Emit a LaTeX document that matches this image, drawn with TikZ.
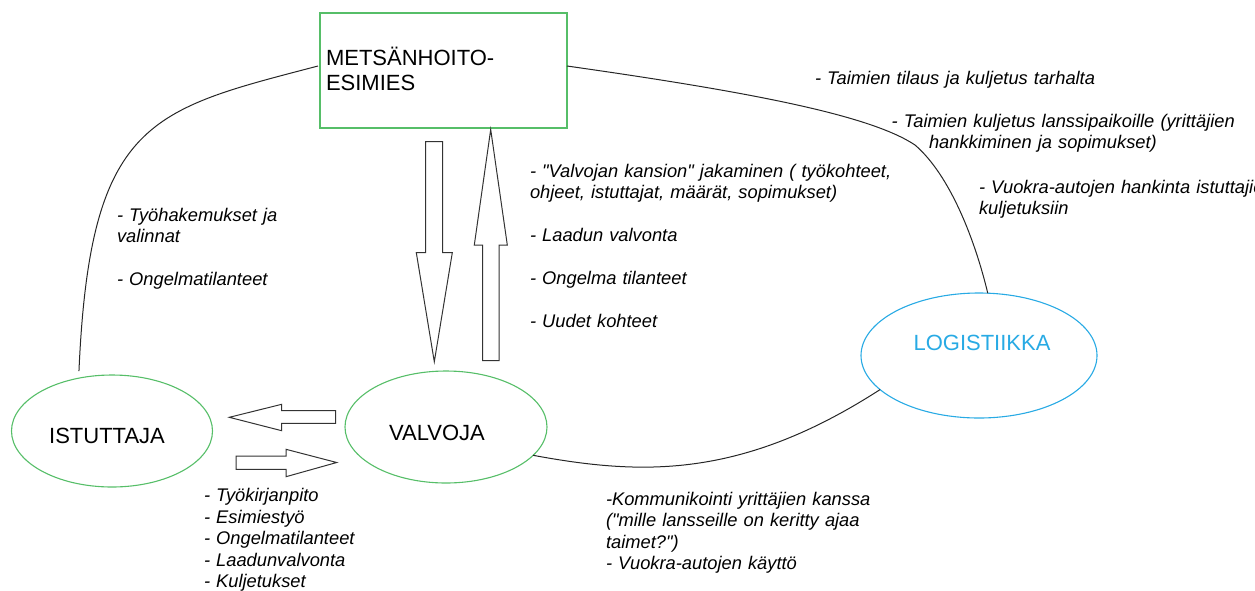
\documentclass[tikz,border=0pt]{standalone}
\usepackage{fontspec}
\setmainfont{Liberation Sans}[Ligatures=TeXOff]
\usetikzlibrary{shapes.geometric}
\definecolor{rolegreen}{RGB}{86,190,104}
\definecolor{logblue}{RGB}{40,170,228}
\begin{document}
\begin{tikzpicture}[x=1pt,y=-1pt,
  every node/.style={inner sep=0pt, outer sep=0pt},
  role/.style={ellipse, draw=rolegreen, line width=1.1pt},
  title/.style={font=\fontsize{22}{25.7}\selectfont},
  note/.style={anchor=base west, text width=430pt, align=left,
    font=\fontsize{18.3}{21.5}\selectfont\itshape},
  link/.style={draw=black!85, line width=1pt},
  blockarrow/.style={draw=black!80, line width=1pt, fill=white, line join=miter}
]
\useasboundingbox (0,0) rectangle (1255,590);
\clip (0,0) rectangle (1255,590);

% main boxes
\node[draw=rolegreen, line width=1.1pt, minimum width=247pt, minimum height=115pt] (box) at (443.5,70.5) {};
\node[title, anchor=base west, text width=240pt, align=left] (boxtext) at (326,65) {METSÄNHOITO-\\ESIMIES};

\node[role, minimum width=201pt, minimum height=112pt] (ist) at (112,431) {};
\node[title, anchor=base] (isttext) at (107,443) {ISTUTTAJA};

\node[role, minimum width=202pt, minimum height=112pt] (val) at (446,427) {};
\node[title, anchor=base] (valtext) at (437,440) {VALVOJA};

\node[ellipse, draw=logblue, line width=1.1pt, minimum width=236pt, minimum height=125pt] (log) at (979,355.5) {};
\node[title, anchor=base, text=logblue] (logtext) at (982,350) {LOGISTIIKKA};

% connecting curves
\draw[link] ([yshift=7pt]ist.122) .. controls (90,120) and (150,110) .. ([xshift=-2pt,yshift=4.5pt]box.west);
\draw[link] ([yshift=4.5pt]box.east) .. controls (750,92) and (870,115) .. (915,145)
  .. controls (950,175) and (975,240) .. (log.82);
\draw[link] (val.342) .. controls (640,475) and (740,480) .. (log.199);

% block arrows between the supervisor and the inspector
\draw[blockarrow] (425.7,141.7) -- (442.7,141.7) -- (442.7,252.7) -- (452.3,252.7)
  -- (434.3,361.7) -- (416.3,252.7) -- (425.7,252.7) -- cycle;
\draw[blockarrow] (482.7,360.7) -- (499,360.7) -- (499,245) -- (507.3,245)
  -- (490.7,129.5) -- (474.3,245) -- (482.7,245) -- cycle;

% block arrows between the planter and the inspector
\draw[blockarrow] (335.7,410.7) -- (281.7,410.7) -- (281.7,404.3) -- (229.3,417.3)
  -- (281.7,430.7) -- (281.7,423.3) -- (335.7,423.3) -- cycle;
\draw[blockarrow] (236,456) -- (286,456) -- (286,449.3) -- (336.7,462.5)
  -- (286,476.7) -- (286,469.3) -- (236,469.3) -- cycle;

% notes
\node[note] (n1) at (117,221) {- Työhakemukset ja\\valinnat\\[21.5pt]- Ongelmatilanteet};
\node[note] (n2) at (530,177) {- "Valvojan kansion" jakaminen ( työkohteet,\\ohjeet, istuttajat, määrät, sopimukset)\\[21.5pt]- Laadun valvonta\\[21.5pt]- Ongelma tilanteet\\[21.5pt]- Uudet kohteet};
\node[note] (n3) at (815,84) {- Taimien tilaus ja kuljetus tarhalta};
\node[note] (n4) at (891.7,127) {- Taimien kuljetus lanssipaikoille (yrittäjien\\\hspace*{37.3pt}hankkiminen ja sopimukset)};
\node[note] (n5) at (979,193) {- Vuokra-autojen hankinta istuttajien\\kuljetuksiin};
\node[note] (n6) at (204,501.7) {- Työkirjanpito\\- Esimiestyö\\- Ongelmatilanteet\\- Laadunvalvonta\\- Kuljetukset};
\node[note] (n7) at (606,505) {-Kommunikointi yrittäjien kanssa\\("mille lansseille on keritty ajaa\\taimet?")\\- Vuokra-autojen käyttö};
\end{tikzpicture}
\end{document}
